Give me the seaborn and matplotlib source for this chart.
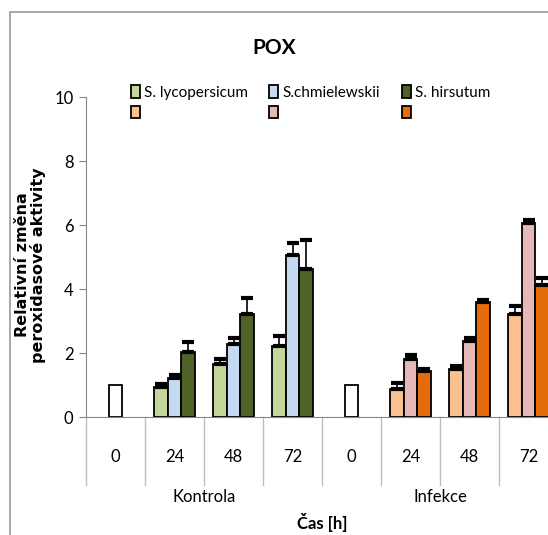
import seaborn as sns
import matplotlib.pyplot as plt
import matplotlib.patches as mpatches
import matplotlib.transforms as mtransforms
import pandas as pd
import numpy as np

# categories along x (two-level: treatment / time)
times = ['0', '24', '48', '72', '0', '24', '48', '72']
groups = ['Kontrola', 'Infekce']
slots = ['a', 'b', 'c']
legend_labels = ['S. lycopersicum', 'S.chmielewskii', 'S. hirsutum', '', '', '']

# bar heights per slot (0 = no bar)
val_a = [0, 0.94, 1.67, 2.23, 0, 0.88, 1.51, 3.23]
val_b = [1.0, 1.23, 2.27, 5.05, 1.0, 1.80, 2.38, 6.07]
val_c = [0, 2.03, 3.21, 4.63, 0, 1.45, 3.58, 4.12]
# upper error bars
err_a = [0, 0.10, 0.13, 0.31, 0, 0.18, 0.08, 0.23]
err_b = [0, 0.08, 0.20, 0.38, 0, 0.15, 0.09, 0.10]
err_c = [0, 0.32, 0.52, 0.90, 0, 0.04, 0.09, 0.23]

kontrola_colors = ['#C4D79B', '#C5D9F1', '#4F6228']
infekce_colors = ['#FAC090', '#E6B9B8', '#E46C0A']

plt.rcParams['font.family'] = ['Lato', 'DejaVu Sans']

cats = [f'{g}_{t}' for g in groups for t in times[:4]]
df = pd.DataFrame({
    'cat': cats * 3,
    'slot': np.repeat(slots, len(cats)),
    'value': val_a + val_b + val_c,
})

fig = plt.figure(figsize=(5.48, 5.35), dpi=100)
ax = fig.add_axes([86 / 548, 1 - 417 / 535, 472 / 548, 320 / 535])

sns.barplot(data=df, x='cat', y='value', hue='slot', order=cats, hue_order=slots,
            width=0.68, gap=0, dodge=True, legend=False, ax=ax,
            edgecolor='black', linewidth=1.3, errorbar=None)

errs = [err_a, err_b, err_c]
bar_conts = list(ax.containers)
for si, cont in enumerate(bar_conts):
    for ci, bar in enumerate(cont):
        h = bar.get_height()
        if h <= 0:
            bar.set_visible(False)
            continue
        if ci in (0, 4):
            col = 'white'
        elif ci < 4:
            col = kontrola_colors[si]
        else:
            col = infekce_colors[si]
        bar.set_facecolor(col)
        e = errs[si][ci]
        if e > 0:
            ax.errorbar(bar.get_x() + bar.get_width() / 2, h, yerr=[[0], [e]],
                        fmt='none', ecolor='black', elinewidth=1.2,
                        capsize=4, capthick=3, zorder=1)

ax.set_xlim(-0.5, 7.5)
ax.set_ylim(0, 10)
ax.set_yticks(range(0, 11, 2))
ax.tick_params(axis='y', length=5, color='#868686', labelsize=12, pad=4)
ax.set_xticks(range(8))
ax.set_xticklabels(times)
ax.tick_params(axis='x', length=0, labelsize=12, pad=23)
ax.set_xlabel('')
ax.set_ylabel('')
for s in ['top', 'right']:
    ax.spines[s].set_visible(False)
for s in ['left', 'bottom']:
    ax.spines[s].set_color('#868686')

# category dividers and group labels below the axis
trans = mtransforms.blended_transform_factory(ax.transData, ax.transAxes)
for xb in np.arange(-0.5, 8, 1.0):
    ax.plot([xb, xb], [0, -68 / 320], transform=trans, color='#BFBFBF',
            lw=1, clip_on=False)
ax.text(1.5, -80 / 320, groups[0], transform=trans, ha='center', va='center', fontsize=12)
ax.text(5.5, -80 / 320, groups[1], transform=trans, ha='center', va='center', fontsize=12)
ax.text(3.5, -106 / 320, 'Čas [h]', transform=trans, ha='center', va='center',
        fontsize=12, fontweight='bold')

fig.text(274 / 548, 1 - 48 / 535, 'POX', ha='center', va='center',
         fontsize=15, fontweight='bold')
fig.text(31 / 548, 0.505, 'Relativní změna\nperoxidasové aktivity', rotation=90,
         ha='center', va='center', fontsize=11.5, fontweight='bold',
         family='DejaVu Sans', linespacing=1.0)

# legend: one column per species, infected colour below the control colour
col_x = [131, 269, 402]
for i in range(3):
    hs = [mpatches.Patch(facecolor=c, edgecolor='black', lw=1.3)
          for c in (kontrola_colors[i], infekce_colors[i])]
    lg = fig.legend(hs, [legend_labels[i], legend_labels[i + 3]],
                    loc='upper left', bbox_to_anchor=(col_x[i] / 548, 1 - 85 / 535),
                    frameon=False, fontsize=11, handlelength=0.6, handleheight=0.9,
                    handletextpad=0.25, labelspacing=0.4,
                    borderpad=0, borderaxespad=0)

fig.patches.append(mpatches.Rectangle((10 / 548, -0.1), 1, 1 - 12 / 535 + 0.1,
                                      transform=fig.transFigure, fill=False,
                                      edgecolor='#9A9A9A', lw=1.2))

fig.savefig('out.png', dpi=100)
